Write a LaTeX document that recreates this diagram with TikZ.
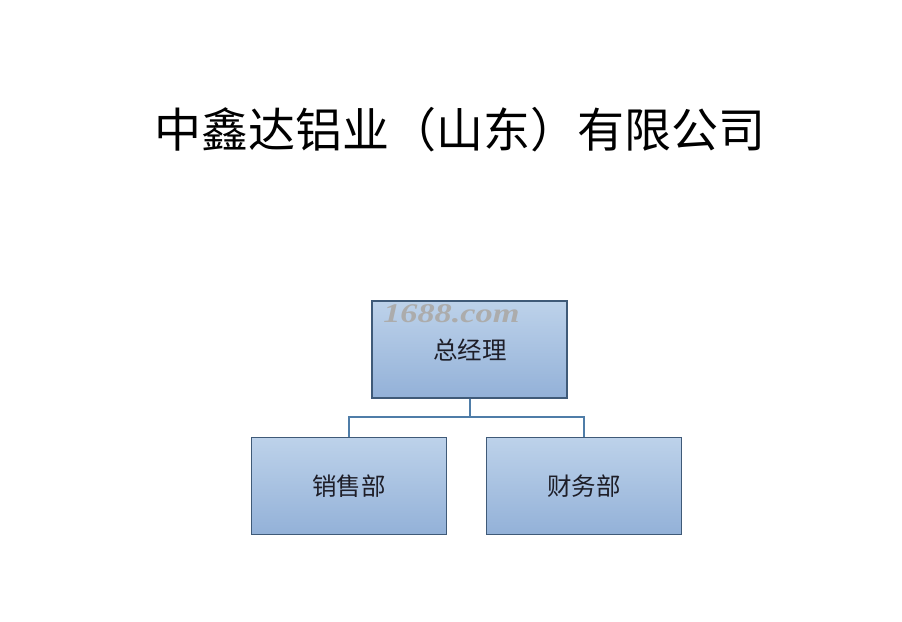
\documentclass[tikz,border=0pt]{standalone}
\usepackage{fontspec}
\newfontfamily\cjk{Noto Sans CJK SC}
\setmainfont{Liberation Serif}
\definecolor{boxtop}{HTML}{BDD2EA}
\definecolor{boxbot}{HTML}{93B1D8}
\definecolor{boxline}{HTML}{3F5A78}
\definecolor{conn}{HTML}{4F7DA8}
\definecolor{txt}{HTML}{1E1E28}
\tikzset{
  orgbox/.style={draw=boxline, line width=1.4pt, top color=boxtop, bottom color=boxbot,
    minimum width=195pt, minimum height=97pt, inner sep=0pt},
  boxtext/.style={text=txt, font=\cjk\fontsize{24.5}{24.5}\selectfont},
  link/.style={draw=conn, line width=1.8pt}
}
\begin{document}
\begin{tikzpicture}[x=1pt,y=-1pt]
\useasboundingbox (0,0) rectangle (902,621);
\fill[white] (0,0) rectangle (902,621);
\node[font=\cjk\fontsize{47}{47}\selectfont, text=black] (title) at (460,130) {中鑫达铝业（山东）有限公司};
\node[orgbox] (gm) at (469.5,349.5) {};
\node[orgbox] (sales) at (349,486) {};
\node[orgbox] (fin) at (584,486) {};
\node[boxtext] (gmt) at (470,350) {总经理};
\node[boxtext] (salest) at (349,486) {销售部};
\node[boxtext] (fint) at (584,486) {财务部};
\node[font=\bfseries\itshape\fontsize{27}{27}\selectfont, text=gray!65, anchor=west, inner sep=0pt, xscale=1.27] (wm) at (383,314) {1688.com};
\coordinate (mid) at (470,417);
\draw[link] (470,398.7) -- (mid);
\draw[link] (sales.north) |- (mid) -| (fin.north);
\end{tikzpicture}
\end{document}
